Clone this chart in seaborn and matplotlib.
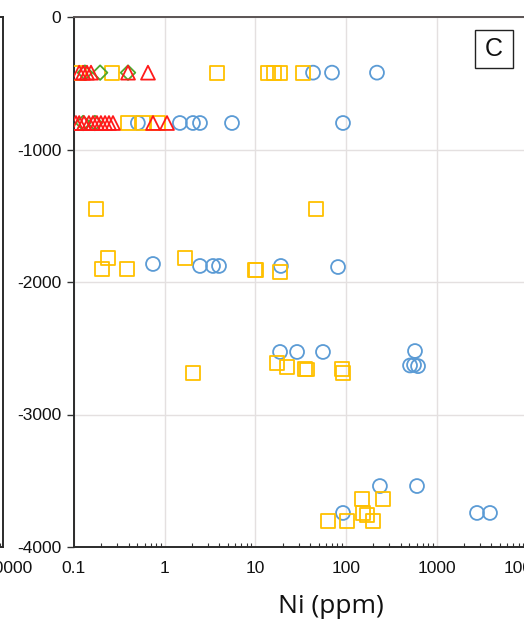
import matplotlib
matplotlib.use("Agg")
import matplotlib.pyplot as plt
import pandas as pd
import seaborn as sns
from matplotlib.patches import Rectangle
from matplotlib.transforms import ScaledTranslation

# Ni content (ppm) against depth (m), one list pair per sample group
circle_ni = [43.2, 69.9, 219,
             0.506, 1.47, 2.05, 2.45, 5.52, 92.4,
             0.743, 2.45, 3.41, 3.97, 19.1, 81.5,
             18.7, 28.8, 55.6, 575, 507, 561, 621,
             236, 605, 92.4, 2775, 3860]
circle_depth = [-420, -420, -420,
                -800, -800, -800, -800, -800, -800,
                -1864, -1879, -1879, -1879, -1879, -1887,
                -2528, -2528, -2528, -2521, -2630, -2626, -2635,
                -3540, -3540, -3743, -3743, -3743]

square_ni = [0.114, 0.262, 3.77, 13.8, 16.0, 18.7, 33.5,
             0.394, 0.576, 0.84,
             0.175, 46.6,
             0.237, 1.67, 0.204, 0.384, 9.9, 10.2, 18.7,
             2.05, 17.3, 22.3, 35.0, 37.0, 90.2, 92.5,
             150, 255, 153, 170, 63.1, 102, 198]
square_depth = [-420, -420, -420, -420, -420, -420, -420,
                -800, -800, -800,
                -1449, -1449,
                -1819, -1819, -1902, -1902, -1909, -1912, -1925,
                -2687, -2611, -2640, -2657, -2660, -2657, -2687,
                -3638, -3638, -3743, -3758, -3804, -3804, -3804]

triangle_ni = [0.114, 0.126, 0.139, 0.154, 0.394, 0.654,
               0.105, 0.114, 0.129, 0.146, 0.162, 0.179, 0.198,
               0.220, 0.243, 0.269, 0.743, 1.06]
triangle_depth = [-420, -420, -420, -420, -420, -420,
                  -800, -800, -800, -800, -800, -800, -800,
                  -800, -800, -800, -800, -800]

diamond_ni = [0.132, 0.194, 0.394, 0.126, 0.170]
diamond_depth = [-420, -420, -420, -800, -800]

x_ticks = [0.1, 1, 10, 100, 1000, 10000]
x_tick_labels = ["0.1", "1", "10", "100", "1000", "10000"]
y_ticks = [0, -1000, -2000, -3000, -4000]
y_tick_labels = ["0", "-1000", "-2000", "-3000", "-4000"]

groups = [
    ("circle", circle_ni, circle_depth, "o", "#5B9BD5", 100),
    ("square", square_ni, square_depth, "s", "#FFC000", 100),
    ("diamond", diamond_ni, diamond_depth, "D", "#4EA72E", 55),
    ("triangle", triangle_ni, triangle_depth, "^", "#FF1A1A", 100),
]

sns.set_theme(style="white")
plt.rcParams["font.family"] = ["Liberation Sans", "DejaVu Sans"]

W, H = 524, 622
fig = plt.figure(figsize=(W / 100, H / 100), dpi=100)

left_px, right_px, top_px, bottom_px = 74, 527.5, 17, 547
ax = fig.add_axes([left_px / W, 1 - bottom_px / H,
                   (right_px - left_px) / W, (bottom_px - top_px) / H])

for name, xs, ys, mk, col, size in groups:
    df = pd.DataFrame({"Ni": xs, "Depth": ys})
    sns.scatterplot(data=df, x="Ni", y="Depth", ax=ax, marker=mk, s=size,
                    color=col, facecolors="none", edgecolor=col,
                    linewidth=1.3, legend=False, zorder=3)

ax.set_xscale("log")
ax.set_xlim(0.1, 10000)
ax.set_ylim(-4000, 0)
ax.set_xticks(x_ticks)
ax.set_xticklabels(x_tick_labels)
ax.set_yticks(y_ticks)
ax.set_yticklabels(y_tick_labels)

ax.grid(True, which="major", color="#E4E0E0", linewidth=1.0, zorder=0)
ax.set_axisbelow(True)

ax.tick_params(axis="x", which="major", direction="in", length=5, width=1,
               color="#333333", labelsize=12.5, pad=10, labelcolor="#111111")
ax.tick_params(axis="x", which="minor", direction="in", length=3, width=0.8,
               color="#333333", bottom=True)
ax.tick_params(axis="y", which="major", direction="out", length=5, width=1,
               color="#333333", labelsize=12.5, pad=4, labelcolor="#111111",
               left=True)
ax.tick_params(axis="y", which="minor", left=False)

for side in ("left", "bottom"):
    ax.spines[side].set_color("#2B2B2B")
    ax.spines[side].set_linewidth(1.4)
ax.spines["top"].set_color("#5A5454")
ax.spines["top"].set_linewidth(1.4)
ax.spines["right"].set_visible(False)

ax.set_xlabel("Ni (ppm)", fontsize=19, family=["Open Sans", "DejaVu Sans"],
              color="#111111")
ax.xaxis.set_label_coords((331 - left_px) / (right_px - left_px),
                          (bottom_px - 594) / (bottom_px - top_px))
ax.set_ylabel("")

# panel letter in a box
box_w, box_h = 38 / W, 38 / H
bx, by = 475 / W, 1 - 68 / H
fig.patches.append(Rectangle((bx, by), box_w, box_h, transform=fig.transFigure,
                             facecolor="white", edgecolor="#222222", lw=1.0))
fig.text(bx + box_w / 2, by + box_h / 2, "C", ha="center", va="center",
         fontsize=18, color="#111111")

# right edge of the neighbouring panel
axl = fig.add_axes([-0.6, 1 - bottom_px / H, 0.6 + 3 / W, (bottom_px - top_px) / H])
axl.set_xscale("log")
axl.set_xlim(0.1, 10000)
axl.set_ylim(-4000, 0)
axl.set_xticks([10000])
axl.set_xticklabels(["10000"])
axl.set_yticks([])
axl.patch.set_alpha(0)
axl.tick_params(axis="x", which="major", direction="in", length=5, width=1,
                color="#333333", labelsize=12.5, pad=10, labelcolor="#111111")
axl.tick_params(axis="x", which="minor", direction="in", length=3, width=0.8,
                color="#333333", bottom=True)
for lab in axl.get_xticklabels():
    lab.set_transform(lab.get_transform() + ScaledTranslation(6 / 100, 0, fig.dpi_scale_trans))
for side in axl.spines:
    axl.spines[side].set_color("#2B2B2B")
    axl.spines[side].set_linewidth(1.4)

fig.savefig("out.png", dpi=100)
